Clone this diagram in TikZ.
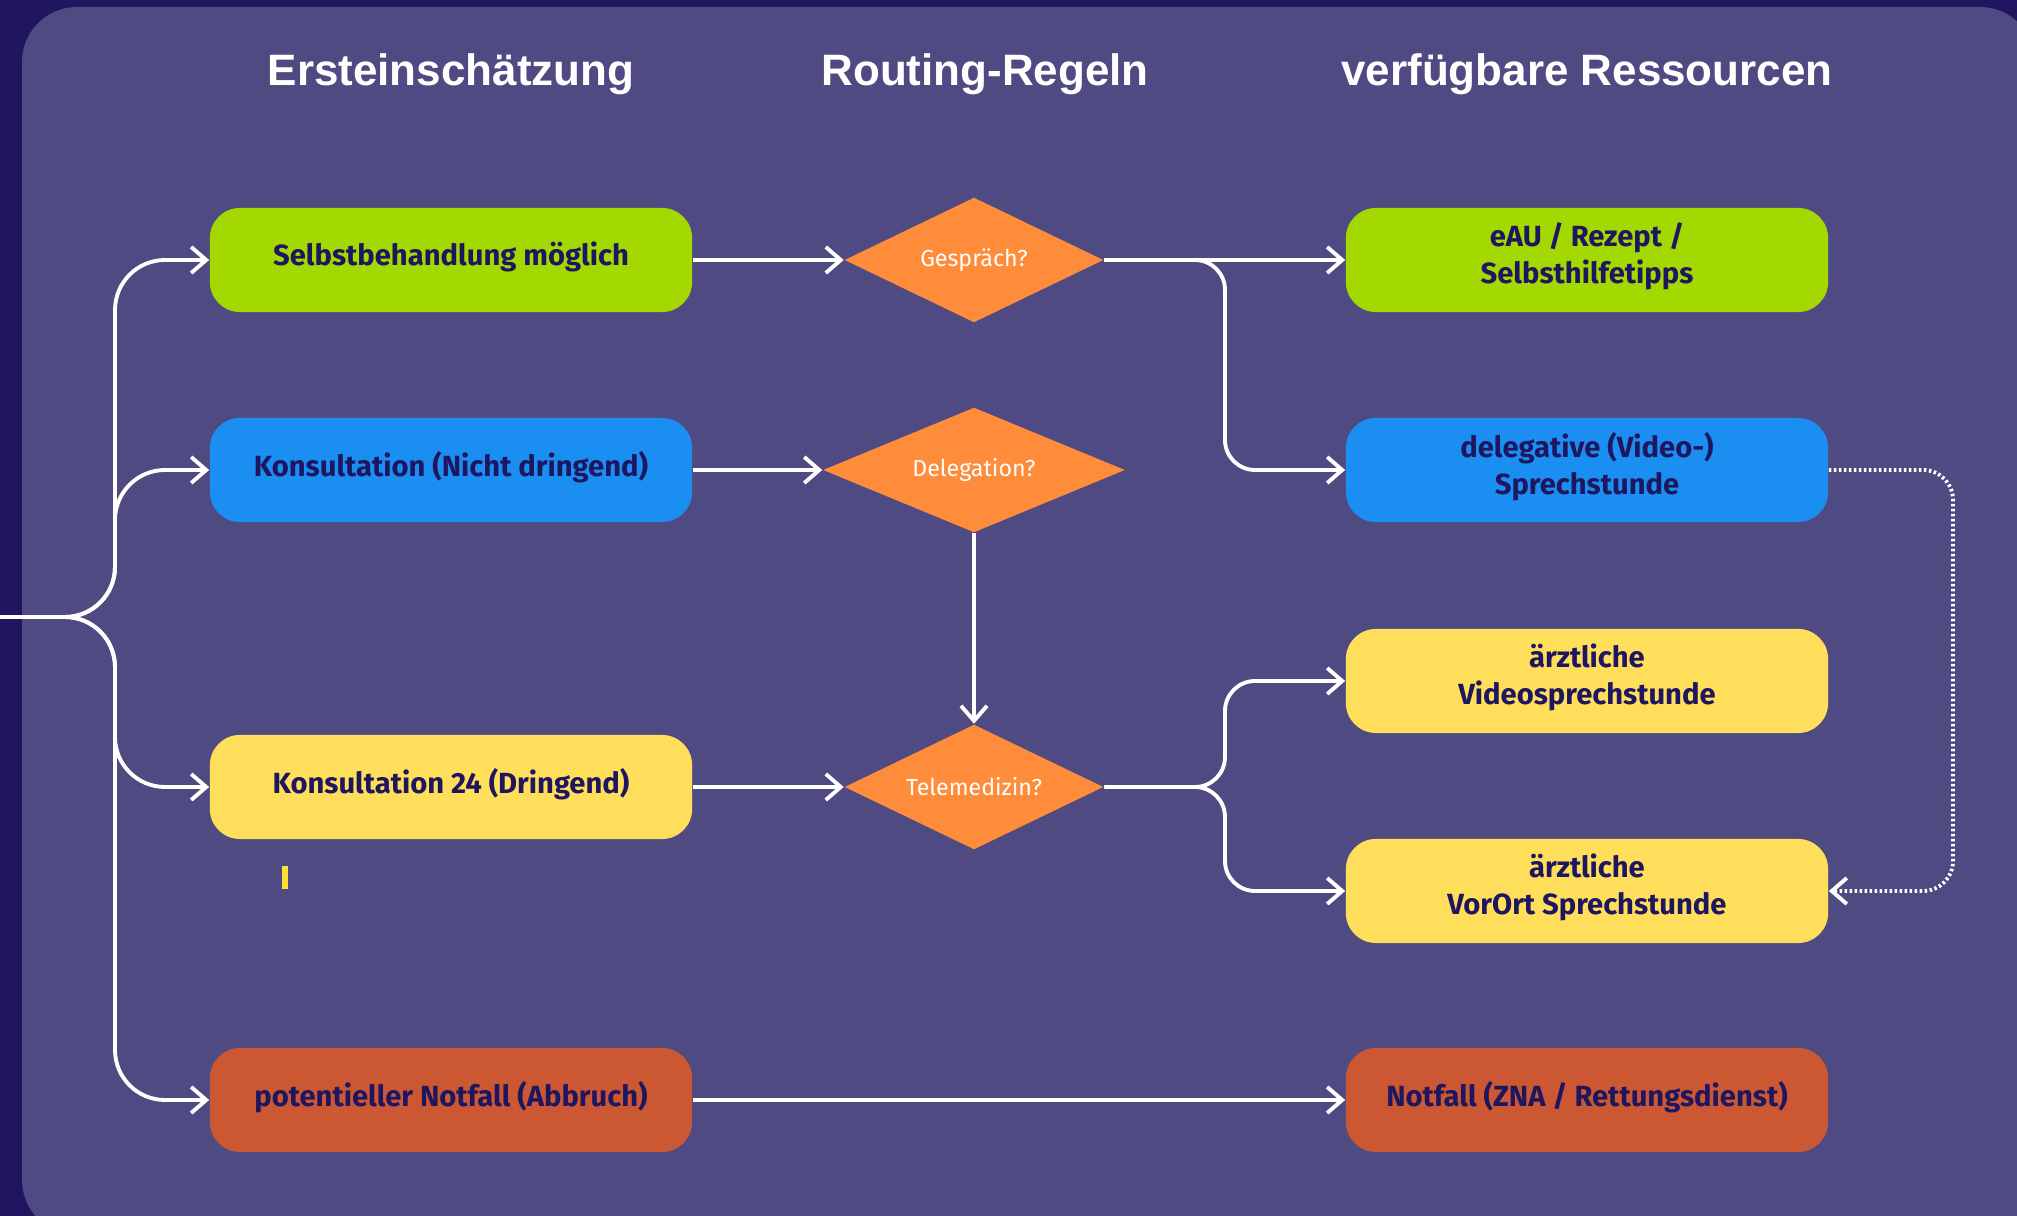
\documentclass[tikz,border=0pt]{standalone}
\usepackage{fontspec}
\setmainfont{Fira Sans}
\newfontfamily\kopf{Liberation Sans}
\usetikzlibrary{shapes.geometric,arrows.meta}
\definecolor{nacht}{HTML}{1F1560}
\definecolor{tafel}{HTML}{504A82}
\definecolor{gruen}{HTML}{A3D800}
\definecolor{blau}{HTML}{1B8EF2}
\definecolor{gelb}{HTML}{FFDE5B}
\definecolor{rost}{HTML}{CB5733}
\definecolor{raute}{HTML}{FF8C3A}
\definecolor{tinte}{HTML}{1F1660}
\definecolor{marke}{HTML}{FFE135}

\begin{document}
\begin{tikzpicture}[x=0.01cm, y=-0.01cm,
    kasten/.style={rounded corners=0.3cm, minimum width=4.82cm, minimum height=1.04cm,
      inner sep=0pt, align=center, text=tinte, text depth=0.13cm,
      font=\fontsize{8.3}{10.5}\selectfont\bfseries},
    frage/.style={diamond, aspect=2.4, fill=raute, inner sep=0pt, text=white,
      minimum width=2.59cm, minimum height=1.25cm, font=\fontsize{6.6}{8}\selectfont},
    titel/.style={text=white, font=\kopf\fontsize{12.5}{15}\selectfont\bfseries},
    pfeil/.style={white, line width=1.1pt, -{Straight Barb[length=0.15cm, width=0.26cm]}}]
  % Hintergrund
  \clip (0,0) rectangle (2017,1216);
  \fill[nacht] (0,0) rectangle (2017,1216);
  \fill[tafel, rounded corners=0.55cm] (22,7) rectangle (2035,1235);
  % Spaltenkoepfe
  \node[titel] (t1) at (451,74) {Ersteinschätzung};
  \node[titel] (t2) at (985,74) {Routing-Regeln};
  \node[titel] (t3) at (1587,74) {verfügbare Ressourcen};
  % Ersteinschaetzung
  \node[kasten, fill=gruen] (sb) at (451,260) {Selbstbehandlung möglich};
  \node[kasten, fill=blau] (kn) at (451,470) {Konsultation (Nicht dringend)};
  \node[kasten, fill=gelb] (kd) at (451,787) {Konsultation 24 (Dringend)};
  \node[kasten, fill=rost] (pn) at (451,1100) {potentieller Notfall (Abbruch)};
  \fill[marke] (282,866) rectangle (288,889);
  % Routing-Regeln
  \node[frage] (ge) at (974,260) {Gespräch?};
  \node[frage, minimum width=3.02cm] (de) at (974,470) {Delegation?};
  \node[frage] (te) at (974,787) {Telemedizin?};
  % Ressourcen
  \node[kasten, fill=gruen] (ea) at (1587,260) {eAU / Rezept /\\Selbsthilfetipps};
  \node[kasten, fill=blau] (dv) at (1587,470) {delegative (Video-)\\Sprechstunde};
  \node[kasten, fill=gelb] (av) at (1587,681) {ärztliche\\Videosprechstunde};
  \node[kasten, fill=gelb] (ao) at (1587,891) {ärztliche\\VorOrt Sprechstunde};
  \node[kasten, fill=rost] (nz) at (1587,1100) {Notfall (ZNA / Rettungsdienst)};
  % Eingang links
  \coordinate (ein) at (0,617);
  \coordinate (gl) at (115,617);
  \foreach \z in {sb,kn,kd,pn}
    \draw[pfeil, rounded corners=0.5cm] (ein) -- (gl) |- (\z.west);
  % Pfeile
  \draw[pfeil] (sb.east) -- (ge.west);
  \draw[pfeil] (kn.east) -- (de.west);
  \draw[pfeil] (kd.east) -- (te.west);
  \draw[pfeil] (pn.east) -- (nz.west);
  \draw[pfeil] (de.south) -- (te.north);
  \draw[pfeil] (ge.east) -- (ea.west);
  \coordinate (gr) at (1225,260);
  \draw[pfeil, rounded corners=0.3cm] (ge.east) -- (gr) |- (dv.west);
  \coordinate (tr) at (1225,787);
  \foreach \z in {av,ao}
    \draw[pfeil, rounded corners=0.3cm] (te.east) -- (tr) |- (\z.west);
  % gepunkteter Rueckweg
  \coordinate (rr) at (1953,470);
  \draw[pfeil, dash pattern=on 0.025cm off 0.025cm, rounded corners=0.3cm]
    (dv.east) -- (rr) |- (ao.east);
\end{tikzpicture}
\end{document}
